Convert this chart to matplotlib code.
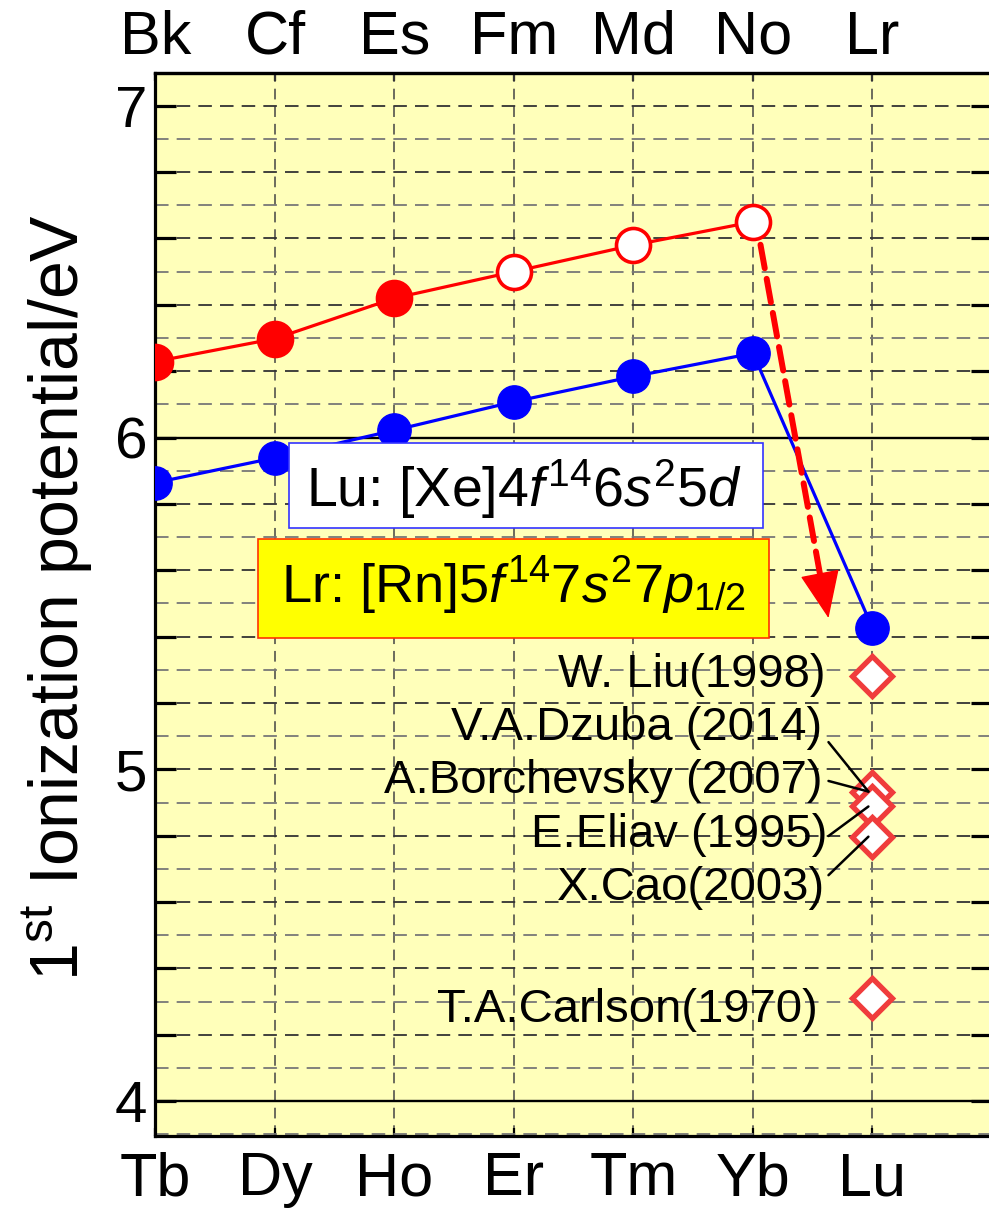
import matplotlib
matplotlib.use('Agg')
import matplotlib.pyplot as plt
from matplotlib.ticker import MultipleLocator, FuncFormatter
from matplotlib.patches import Rectangle

plt.rcParams['font.family'] = ['Liberation Sans', 'DejaVu Sans']
plt.rcParams['mathtext.fontset'] = 'custom'
plt.rcParams['mathtext.rm'] = 'Liberation Sans'
plt.rcParams['mathtext.it'] = 'Liberation Sans:italic'

# data
lanthanides = ['Tb', 'Dy', 'Ho', 'Er', 'Tm', 'Yb', 'Lu']
actinides = ['Bk', 'Cf', 'Es', 'Fm', 'Md', 'No', 'Lr']
ip_lanthanides = [5.864, 5.939, 6.022, 6.108, 6.184, 6.254, 5.426]
ip_actinides = [6.229, 6.298, 6.420, 6.500, 6.580, 6.650]
actinide_measured = [True, True, True, False, False, False]
lr_calc = [5.28, 4.933, 4.888, 4.797, 4.31]
refs = ['W. Liu(1998)', 'V.A.Dzuba (2014)', 'A.Borchevsky (2007)',
        'E.Eliav (1995)', 'X.Cao(2003)', 'T.A.Carlson(1970)']

fig = plt.figure(figsize=(9.89, 12.09), dpi=100)
ax = fig.add_axes([0.1572, 0.0604, 0.8458, 0.8796])
ax.set_facecolor('#ffffba')

xs = list(range(len(lanthanides)))
ax.set_xlim(0, 7)
ax.set_ylim(3.895, 7.1)

# grid
ax.xaxis.set_major_locator(MultipleLocator(1))
ax.yaxis.set_major_locator(MultipleLocator(0.2))
ax.yaxis.set_minor_locator(MultipleLocator(0.1))
ax.grid(axis='x', which='major', color='#444444', lw=1.1, ls=(0, (7, 4.5)), zorder=0)
ax.grid(axis='y', which='major', color='#333333', lw=1.3, ls=(0, (7.5, 4.5)), zorder=0)
ax.grid(axis='y', which='minor', color='#777777', lw=1.3, ls=(0, (7.5, 4.5)), zorder=0)
ax.set_axisbelow(True)
for yv in (4, 6):
    ax.axhline(yv, color='black', lw=1.7, zorder=1)

# data series
ax.plot(xs, ip_lanthanides, color='#0000ff', lw=2.3, marker='o', ms=24,
        mfc='#0000ff', mec='#0000ff', zorder=4)
ax.plot(xs[:6], ip_actinides, color='#ff0000', lw=2.3, zorder=4)
for x, y, meas in zip(xs[:6], ip_actinides, actinide_measured):
    ax.plot(x, y, marker='o', ms=24.5, mew=2.6, mec='#ff0000',
            mfc='#ff0000' if meas else 'white', zorder=5)
ax.plot([6] * len(lr_calc), lr_calc, ls='none', marker='D', ms=20.5, mew=3.8,
        mec='#f03c3c', mfc='white', zorder=5)

# arrow No -> Lr : dashed shaft + solid head
ax.annotate('', xy=(5.563, 5.584), xytext=(5.063, 6.581),
            arrowprops=dict(arrowstyle='-', color='#ff0000', lw=4.3,
                            ls=(0, (4, 1.8)), shrinkA=0, shrinkB=0),
            zorder=6)
ax.annotate('', xy=(5.632, 5.456), xytext=(5.563, 5.584),
            arrowprops=dict(arrowstyle='-|>,head_length=1.55,head_width=0.65',
                            mutation_scale=20, color='#ff0000', lw=1,
                            shrinkA=0, shrinkB=0),
            zorder=6)

# config boxes
ax.add_patch(Rectangle((1.115, 5.727), 3.972, 0.256, facecolor='white',
                       edgecolor='#3333ff', lw=1.2, zorder=7))
ax.text(3.08, 5.79, r'Lu: [Xe]4$\mathit{f}^{\mathrm{14}}$6$\mathit{s}^{\mathrm{2}}$5$\mathit{d}$',
        fontsize=40, ha='center', va='baseline', zorder=8)
ax.add_patch(Rectangle((0.855, 5.395), 4.282, 0.299, facecolor='#ffff00',
                       edgecolor='#ff3300', lw=1.2, zorder=7))
ax.text(3.0, 5.504, r'Lr: [Rn]5$\mathit{f}^{\mathrm{14}}$7$\mathit{s}^{\mathrm{2}}$7$\mathit{p}_{\mathrm{1/2}}$',
        fontsize=39, ha='center', va='baseline', zorder=8)

# reference labels
label_x = [5.607, 5.582, 5.582, 5.624, 5.607, 5.540]
label_y = [5.249, 5.088, 4.928, 4.767, 4.606, 4.239]
for t, lx, ly in zip(refs, label_x, label_y):
    ax.text(lx, ly, t, fontsize=34, ha='right', va='baseline', zorder=6)

# connectors: Dzuba, Borchevsky -> 4.93 ; Eliav -> 4.89 ; Cao -> 4.80
conn_start = [(5.632, 5.082), (5.632, 4.965), (5.632, 4.799), (5.632, 4.681)]
conn_target = [lr_calc[1], lr_calc[1], lr_calc[2], lr_calc[3]]
for (sx, sy), ty in zip(conn_start, conn_target):
    ax.annotate('', xy=(5.966, ty), xytext=(sx, sy),
                arrowprops=dict(arrowstyle='-', color='black', lw=1.8,
                                shrinkA=0, shrinkB=0), zorder=6)

# axes styling
for sp in ax.spines.values():
    sp.set_linewidth(2.3)
ax.set_xticks(xs)
ax.set_xticklabels(lanthanides, fontsize=44)
ax.yaxis.set_major_formatter(FuncFormatter(
    lambda v, p: '%d' % round(v) if abs(v - round(v)) < 1e-6 else ''))
ax.tick_params(axis='y', which='major', direction='in', length=15, width=2.3,
               left=True, right=True, labelsize=42, pad=6)
ax.tick_params(axis='y', which='minor', length=0)
ax.tick_params(axis='x', which='major', direction='in', length=6, width=1.6,
               top=False, bottom=True, pad=11)

top = ax.secondary_xaxis('top')
top.set_xticks(xs)
top.set_xticklabels(actinides, fontsize=44)
top.tick_params(direction='in', length=6, width=1.6, pad=4)
top.spines['top'].set_linewidth(2.3)

fig.text(0.0586, 0.5058, r'1$^{\mathrm{st}}$ Ionization potential/eV', fontsize=49,
         rotation=90, ha='center', va='center')

fig.savefig('out.png', dpi=100)
